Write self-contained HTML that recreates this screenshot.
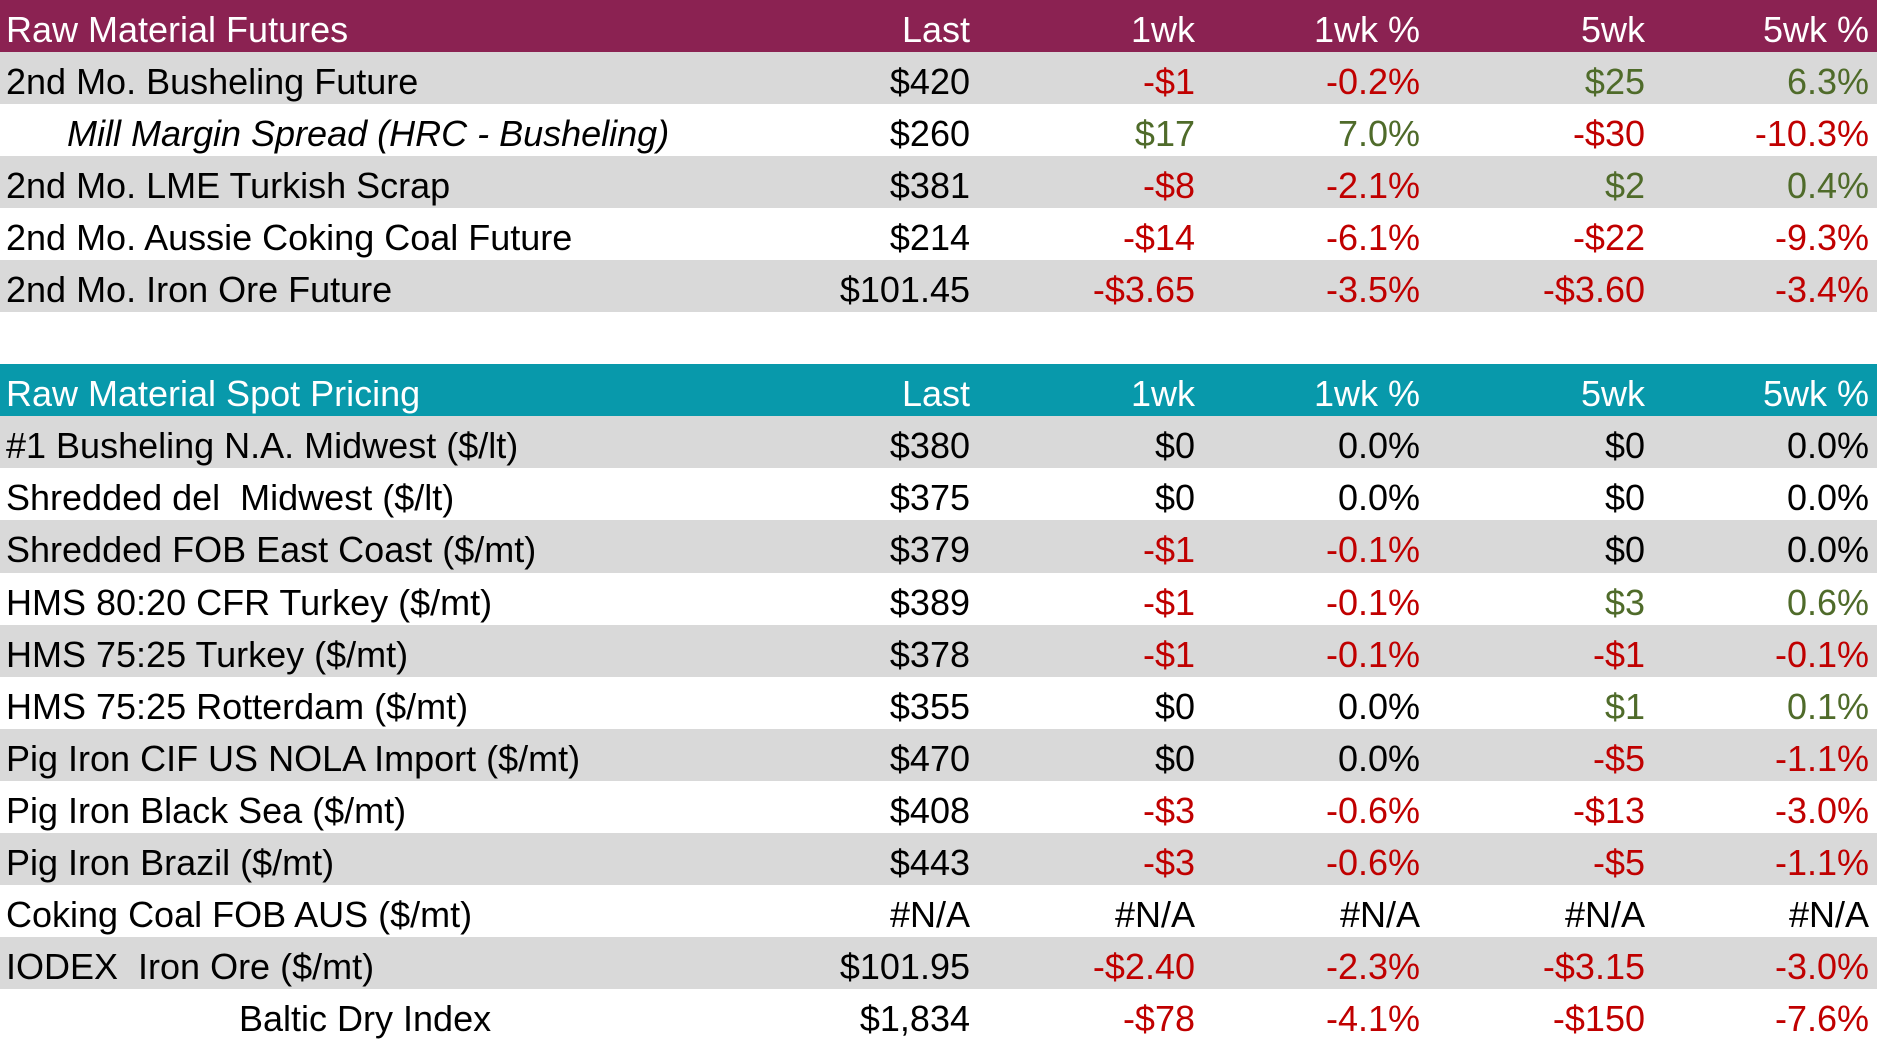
<!DOCTYPE html>
<html><head><meta charset="utf-8"><style>
html,body{margin:0;padding:0;background:#fff;width:1877px;height:1041px;overflow:hidden}
body{font-family:"Liberation Sans",sans-serif;font-size:36px}
.r{position:relative;height:52.05px;width:1877px;white-space:nowrap}
.g{background:#D9D9D9}.m{background:#8B2252;color:#fff}.t{background:#0899AB;color:#fff}
.r span{position:absolute;top:4px;line-height:52px}
.l{left:6px}
.c1{right:calc(1877px - 970px)}.c2{right:calc(1877px - 1195px)}.c3{right:calc(1877px - 1420px)}.c4{right:calc(1877px - 1645px)}.c5{right:calc(1877px - 1869px)}
.n{color:#C00000}.p{color:#4F6B2A}
</style></head><body>
<div class="r m"><span class="l">Raw Material Futures</span><span class="c1">Last</span><span class="c2">1wk</span><span class="c3">1wk %</span><span class="c4">5wk</span><span class="c5">5wk %</span></div>
<div class="r g"><span class="l">2nd Mo. Busheling Future</span><span class="c1">$420</span><span class="c2 n">-$1</span><span class="c3 n">-0.2%</span><span class="c4 p">$25</span><span class="c5 p">6.3%</span></div>
<div class="r"><span class="l" style="left:67px;font-style:italic">Mill Margin Spread (HRC - Busheling)</span><span class="c1">$260</span><span class="c2 p">$17</span><span class="c3 p">7.0%</span><span class="c4 n">-$30</span><span class="c5 n">-10.3%</span></div>
<div class="r g"><span class="l">2nd Mo. LME Turkish Scrap</span><span class="c1">$381</span><span class="c2 n">-$8</span><span class="c3 n">-2.1%</span><span class="c4 p">$2</span><span class="c5 p">0.4%</span></div>
<div class="r"><span class="l">2nd Mo. Aussie Coking Coal Future</span><span class="c1">$214</span><span class="c2 n">-$14</span><span class="c3 n">-6.1%</span><span class="c4 n">-$22</span><span class="c5 n">-9.3%</span></div>
<div class="r g"><span class="l">2nd Mo. Iron Ore Future</span><span class="c1">$101.45</span><span class="c2 n">-$3.65</span><span class="c3 n">-3.5%</span><span class="c4 n">-$3.60</span><span class="c5 n">-3.4%</span></div>
<div class="r"></div>
<div class="r t"><span class="l">Raw Material Spot Pricing</span><span class="c1">Last</span><span class="c2">1wk</span><span class="c3">1wk %</span><span class="c4">5wk</span><span class="c5">5wk %</span></div>
<div class="r g"><span class="l">#1 Busheling N.A. Midwest ($/lt)</span><span class="c1">$380</span><span class="c2">$0</span><span class="c3">0.0%</span><span class="c4">$0</span><span class="c5">0.0%</span></div>
<div class="r"><span class="l">Shredded del&nbsp; Midwest ($/lt)</span><span class="c1">$375</span><span class="c2">$0</span><span class="c3">0.0%</span><span class="c4">$0</span><span class="c5">0.0%</span></div>
<div class="r g"><span class="l">Shredded FOB East Coast ($/mt)</span><span class="c1">$379</span><span class="c2 n">-$1</span><span class="c3 n">-0.1%</span><span class="c4">$0</span><span class="c5">0.0%</span></div>
<div class="r"><span class="l">HMS 80:20 CFR Turkey ($/mt)</span><span class="c1">$389</span><span class="c2 n">-$1</span><span class="c3 n">-0.1%</span><span class="c4 p">$3</span><span class="c5 p">0.6%</span></div>
<div class="r g"><span class="l">HMS 75:25 Turkey ($/mt)</span><span class="c1">$378</span><span class="c2 n">-$1</span><span class="c3 n">-0.1%</span><span class="c4 n">-$1</span><span class="c5 n">-0.1%</span></div>
<div class="r"><span class="l">HMS 75:25 Rotterdam ($/mt)</span><span class="c1">$355</span><span class="c2">$0</span><span class="c3">0.0%</span><span class="c4 p">$1</span><span class="c5 p">0.1%</span></div>
<div class="r g"><span class="l">Pig Iron CIF US NOLA Import ($/mt)</span><span class="c1">$470</span><span class="c2">$0</span><span class="c3">0.0%</span><span class="c4 n">-$5</span><span class="c5 n">-1.1%</span></div>
<div class="r"><span class="l">Pig Iron Black Sea ($/mt)</span><span class="c1">$408</span><span class="c2 n">-$3</span><span class="c3 n">-0.6%</span><span class="c4 n">-$13</span><span class="c5 n">-3.0%</span></div>
<div class="r g"><span class="l">Pig Iron Brazil ($/mt)</span><span class="c1">$443</span><span class="c2 n">-$3</span><span class="c3 n">-0.6%</span><span class="c4 n">-$5</span><span class="c5 n">-1.1%</span></div>
<div class="r"><span class="l">Coking Coal FOB AUS ($/mt)</span><span class="c1">#N/A</span><span class="c2">#N/A</span><span class="c3">#N/A</span><span class="c4">#N/A</span><span class="c5">#N/A</span></div>
<div class="r g"><span class="l">IODEX&nbsp; Iron Ore ($/mt)</span><span class="c1">$101.95</span><span class="c2 n">-$2.40</span><span class="c3 n">-2.3%</span><span class="c4 n">-$3.15</span><span class="c5 n">-3.0%</span></div>
<div class="r"><span class="l" style="left:239px">Baltic Dry Index</span><span class="c1">$1,834</span><span class="c2 n">-$78</span><span class="c3 n">-4.1%</span><span class="c4 n">-$150</span><span class="c5 n">-7.6%</span></div>
</body></html>
